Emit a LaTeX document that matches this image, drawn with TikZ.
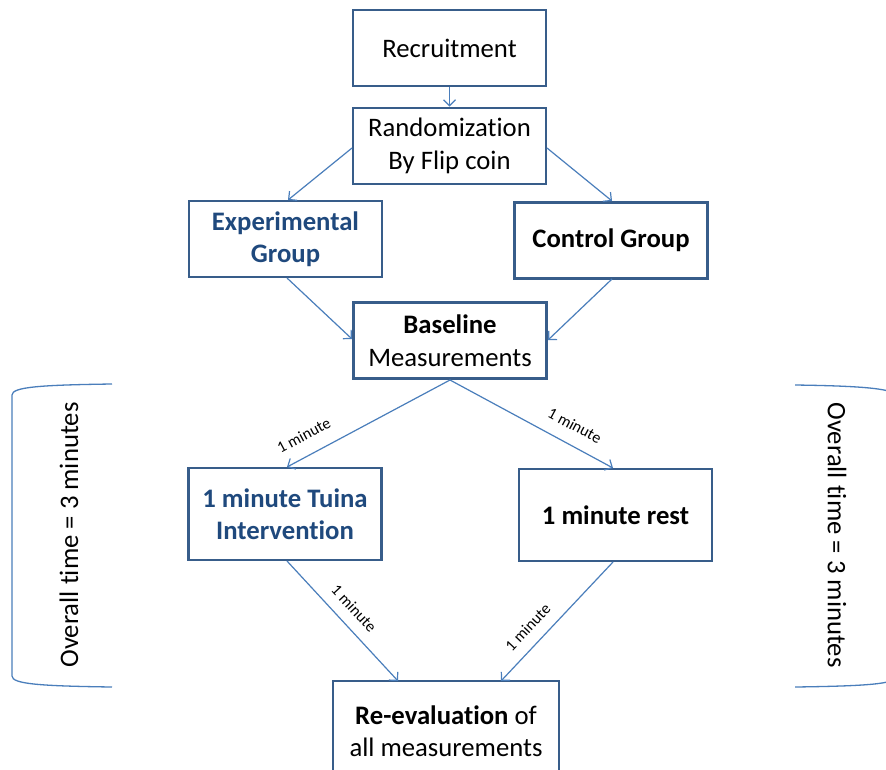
\documentclass[tikz,border=0pt]{standalone}
\usepackage{fontspec}
\setmainfont{Carlito}[Ligatures=NoCommon]
\usetikzlibrary{arrows.meta}
\definecolor{boxc}{HTML}{385D8A}
\definecolor{arrc}{HTML}{4A7EBB}
\definecolor{bluetext}{HTML}{1F497D}
\tikzset{
  box/.style={draw=boxc, line width=2.8pt, fill=white, align=center, inner sep=0pt,
    minimum width=193pt, minimum height=76pt,
    font=\fontsize{26.7}{32.5}\selectfont},
  conn/.style={draw=arrc, line width=1.2pt, -{Straight Barb[length=6pt,width=12pt,line width=1.2pt]}},
  lbl/.style={font=\fontsize{16}{18}\selectfont, inner sep=1pt, sloped},
  brk/.style={draw=arrc, line width=1.3pt},
  side/.style={font=\fontsize{26.7}{32}\selectfont, inner sep=0pt}
}
\begin{document}
\begin{tikzpicture}[x=1pt,y=-1pt]
\useasboundingbox (0,0) rectangle (886,769);
\clip (0,0) rectangle (886,769);
\fill[white] (0,0) rectangle (886,769);

\node[box] (rec) at (449.5,48) {Recruitment};
\node[box] (rand) at (449.5,146) {Randomization\\By Flip coin};
\node[box] (exp) at (285.5,239) {\textbf{\color{bluetext}Experimental}\\\textbf{\color{bluetext}Group}};
\node[box] (ctrl) at (611,240.5) {\textbf{Control Group}};
\node[box] (base) at (450,340.5) {\textbf{Baseline}\\Measurements};
\node[box, minimum height=92pt] (tuina) at (285,514) {\textbf{\color{bluetext}1 minute Tuina}\\\textbf{\color{bluetext}Intervention}};
\node[box, minimum height=92pt] (rest) at (615.5,515) {\textbf{1 minute rest}};
\node[box, minimum width=226pt, minimum height=100pt] (reev) at (446,731) {\textbf{Re-evaluation} of\\all measurements};

\coordinate (randL) at (352,148);
\coordinate (randR) at (547,148);
\coordinate (expT) at (288,200);
\coordinate (ctrlT) at (612,201);
\coordinate (expB) at (287,278);
\coordinate (ctrlB) at (612,279);
\coordinate (baseL) at (352,339);
\coordinate (baseR) at (548,340);
\coordinate (baseB) at (450,380);
\coordinate (tuinaT) at (287,467);
\coordinate (restT) at (613,468);
\coordinate (tuinaB) at (287,561);
\coordinate (restB) at (613,562);
\coordinate (reevL) at (398,681);
\coordinate (reevR) at (501,681);

\draw[conn] (rec.south) -- (rand.north);
\draw[conn] (randL) -- (expT);
\draw[conn] (randR) -- (ctrlT);
\draw[conn] (expB) -- (baseL);
\draw[conn] (ctrlB) -- (baseR);
\draw[conn] (baseB) -- node[lbl, pos=0.84, above=13pt] {1 minute} (tuinaT);
\draw[conn] (baseB) -- node[lbl, pos=0.71, above=12pt] {1 minute} (restT);
\draw[conn] (tuinaB) -- node[lbl, pos=0.49, above=10pt] {1 minute} (reevL);
\draw[conn] (restB) -- node[lbl, pos=0.65, above=10pt] {1 minute} (reevR);

% brackets
\draw[brk] (112,384) .. controls (40,385) and (12,387) .. (12,395) -- (12,676) .. controls (12,684) and (40,686) .. (112,687);
\draw[brk] (795,385) .. controls (867,386) and (897,389) .. (897,397) -- (897,676) .. controls (897,684) and (867,686) .. (795,687);

\node[side, rotate=90] (tl) at (69,535) {Overall time = 3 minutes};
\node[side, rotate=-90] (tr) at (837,535) {Overall time = 3 minutes};
\end{tikzpicture}
\end{document}
